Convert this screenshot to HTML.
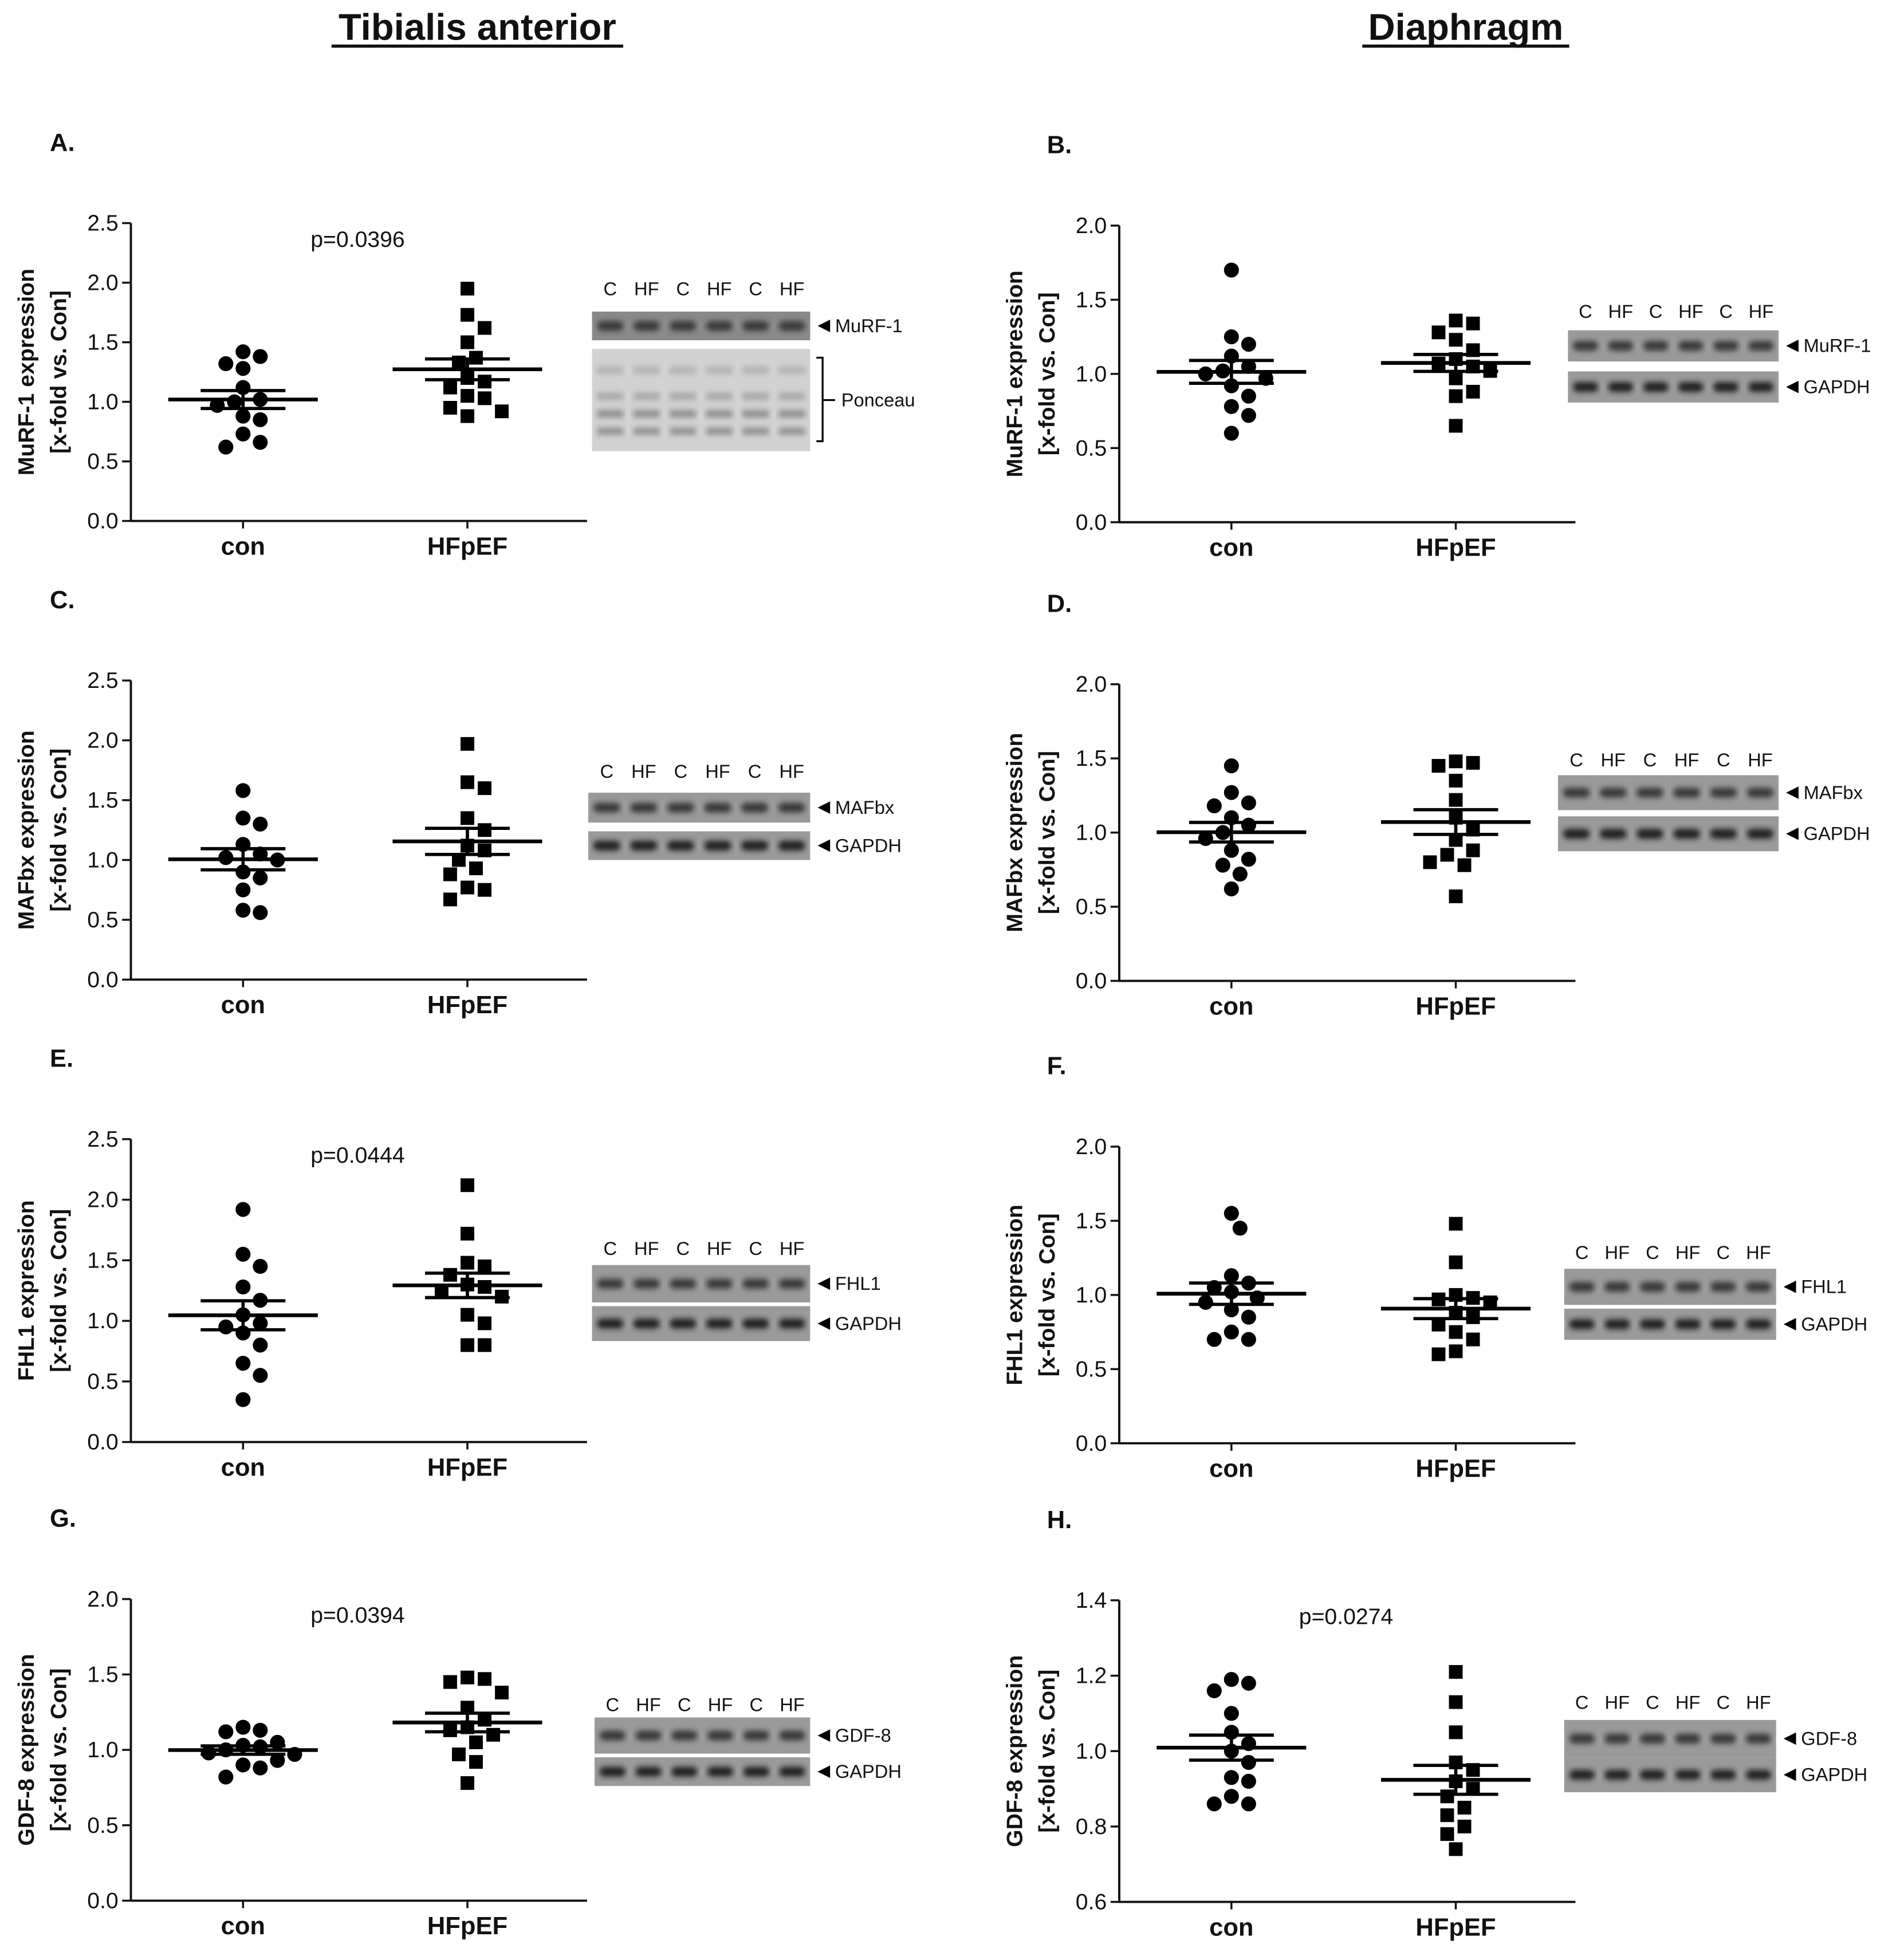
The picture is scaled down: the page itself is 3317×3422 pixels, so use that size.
<!DOCTYPE html>
<html><head><meta charset="utf-8"><style>
html,body{margin:0;padding:0;background:#fff}
svg{display:block}
text{font-family:"Liberation Sans",Arial,sans-serif;fill:#111}
</style></head><body>
<svg id="fig" width="3317" height="3422" viewBox="0 0 1524.4 1572.6" preserveAspectRatio="none" xmlns="http://www.w3.org/2000/svg">
<defs><filter id="blur" x="-10%" y="-100%" width="120%" height="300%"><feGaussianBlur stdDeviation="2.2"/></filter></defs>
<text x="383" y="32" text-anchor="middle" font-size="30" font-weight="bold">Tibialis anterior</text>
<line x1="266" y1="37" x2="500" y2="37" stroke="#111" stroke-width="2.5"/>
<text x="1176" y="32" text-anchor="middle" font-size="30" font-weight="bold">Diaphragm</text>
<line x1="1093" y1="37" x2="1259" y2="37" stroke="#111" stroke-width="2.5"/>
</svg>
<script>
// ----- data -----
const panelLetters = ["A.","B.","C.","D.","E.","F.","G.","H."];
const proteins = ["MuRF-1","MuRF-1","MAFbx","MAFbx","FHL1","FHL1","GDF-8","GDF-8"];
const categories = ["con","HFpEF"];
const yMaxs = [2.5,2.0,2.5,2.0,2.5,2.0,2.0,1.4];
const yMins = [0,0,0,0,0,0,0,0.6];
const yStepVals = [0.5,0.5,0.5,0.5,0.5,0.5,0.5,0.2];
const pValues = ["p=0.0396","","","","p=0.0444","","p=0.0394","p=0.0274"];
const conA=[1.42,1.38,1.32,1.28,1.12,1.02,1.0,0.97,0.88,0.85,0.73,0.66,0.62];
const hfA=[1.95,1.73,1.62,1.50,1.37,1.33,1.20,1.17,1.12,1.05,1.03,0.95,0.92,0.88];
const conB=[1.70,1.25,1.20,1.12,1.05,1.02,1.0,0.97,0.92,0.85,0.78,0.72,0.60];
const hfB=[1.36,1.34,1.28,1.23,1.16,1.10,1.07,1.05,1.02,0.97,0.88,0.85,0.65];
const conC=[1.58,1.35,1.30,1.13,1.05,1.02,1.0,0.90,0.85,0.75,0.58,0.56];
const hfC=[1.97,1.65,1.60,1.35,1.25,1.12,1.08,1.00,0.93,0.88,0.77,0.75,0.67];
const conD=[1.45,1.27,1.20,1.18,1.10,1.05,1.0,0.96,0.88,0.82,0.78,0.72,0.62];
const hfD=[1.48,1.47,1.45,1.35,1.22,1.10,1.02,0.95,0.88,0.85,0.80,0.78,0.57];
const conE=[1.92,1.55,1.45,1.28,1.17,1.05,0.98,0.95,0.90,0.80,0.65,0.55,0.35];
const hfE=[2.12,1.72,1.48,1.45,1.38,1.30,1.28,1.25,1.20,1.05,0.98,0.80,0.80];
const conF=[1.55,1.45,1.13,1.08,1.05,1.02,0.98,0.95,0.90,0.85,0.75,0.70,0.70];
const hfF=[1.48,1.22,1.00,0.98,0.97,0.95,0.88,0.85,0.80,0.75,0.70,0.62,0.60];
const conG=[1.15,1.13,1.12,1.05,1.03,1.02,1.0,0.98,0.97,0.93,0.90,0.88,0.82];
const hfG=[1.48,1.47,1.45,1.38,1.28,1.20,1.15,1.13,1.10,1.05,0.97,0.92,0.78];
const conH=[1.19,1.18,1.16,1.10,1.05,1.02,1.00,0.97,0.93,0.92,0.88,0.86,0.86];
const hfH=[1.21,1.13,1.05,0.97,0.95,0.92,0.90,0.88,0.85,0.83,0.80,0.78,0.74];
const conSeries=[conA,conB,conC,conD,conE,conF,conG,conH];
const hfSeries=[hfA,hfB,hfC,hfD,hfE,hfF,hfG,hfH];

// ----- layout (not data) -----
const L=[
 {ax:105,top:179,bot:418,blot:[475,650],lab:231,b1:[250,273],b2:null,pon:[280,362]},
 {ax:898,top:181,bot:419,blot:[1258,1427],lab:249,b1:[265,290],b2:[298,323]},
 {ax:105,top:546,bot:786,blot:[472,650],lab:618,b1:[636,660],b2:[667,690]},
 {ax:898,top:549,bot:787,blot:[1250,1427],lab:609,b1:[622,650],b2:[655,683]},
 {ax:105,top:914,bot:1157,blot:[475,650],lab:1001,b1:[1015,1045],b2:[1048,1076]},
 {ax:898,top:920,bot:1158,blot:[1255,1425],lab:1004,b1:[1018,1047],b2:[1050,1075]},
 {ax:105,top:1283,bot:1525,blot:[477,650],lab:1367,b1:[1378,1407],b2:[1410,1433]},
 {ax:898,top:1284,bot:1526,blot:[1255,1425],lab:1365,b1:[1380,1410],b2:[1410,1438]}
];
const NS="http://www.w3.org/2000/svg";
const svg=document.getElementById('fig');
function mk(tag,attrs,parent){const e=document.createElementNS(NS,tag);for(const k in attrs)e.setAttribute(k,attrs[k]);(parent||svg).appendChild(e);return e;}
function txt(s,attrs,parent){const e=mk('text',attrs,parent);e.textContent=s;return e;}

function swarm(vals,cx,yf,r){
  const placed=[];const out=[];
  const order=vals.map((v,i)=>i).sort((a,b)=>vals[b]-vals[a]);
  for(const i of order){
    const y=yf(vals[i]);
    for(let k=0;k<40;k++){
      const off=(k%2?1:-1)*Math.ceil(k/2)*r*1.15;
      const x=cx+off;
      if(placed.every(p=>Math.hypot(p[0]-x,p[1]-y)>=2*r+1)){placed.push([x,y]);out[i]=[x,y];break;}
    }
  }
  return out;
}

for(let p=0;p<8;p++){
  const l=L[p];
  const g=mk('g',{});
  
  
  const xEnd=l.ax+366;
  const yf=v=>l.bot-(v-yMins[p])/(yMaxs[p]-yMins[p])*(l.bot-l.top);
  const xc=[l.ax+90,l.ax+270];
  const lt=txt(panelLetters[p],{x:l.ax-65+(p%2?7:0),y:l.top-58,'font-size':20,'font-weight':'bold'},g);
  
  
  const ya=mk('line',{x1:l.ax,y1:l.top,x2:l.ax,y2:l.bot,stroke:'#111','stroke-width':1.8},g);
  
  
  const xa=mk('line',{x1:l.ax,y1:l.bot,x2:xEnd,y2:l.bot,stroke:'#111','stroke-width':1.8},g);
  
  
  const n=Math.round((yMaxs[p]-yMins[p])/yStepVals[p]);
  for(let i=0;i<=n;i++){
    const v=yMins[p]+i*yStepVals[p];const y=yf(v);
    mk('line',{x1:l.ax-7,y1:y,x2:l.ax,y2:y,stroke:'#111','stroke-width':1.6},g);
    const t=txt(v.toFixed(1),{x:l.ax-10,y:y+6,'text-anchor':'end','font-size':18},g);
    
    
  }
  for(let c=0;c<2;c++){
    mk('line',{x1:xc[c],y1:l.bot,x2:xc[c],y2:l.bot+6,stroke:'#111','stroke-width':1.6},g);
    const t=txt(categories[c],{x:xc[c],y:l.bot+27,'text-anchor':'middle','font-size':20,'font-weight':'bold'},g);
    
    
  }
  const ym=(l.top+l.bot)/2;
  const t1=txt(proteins[p]+' expression',{x:0,y:0,'font-size':18,'font-weight':'bold','text-anchor':'middle',transform:`translate(${l.ax-78},${ym}) rotate(-90)`},g);
  
  
  const t2=txt('[x-fold vs. Con]',{x:0,y:0,'font-size':18,'font-weight':'bold','text-anchor':'middle',transform:`translate(${l.ax-52},${ym}) rotate(-90)`},g);
  
  
  if(pValues[p]){
    const pt=txt(pValues[p],{x:l.ax+182,y:l.top+19,'text-anchor':'middle','font-size':18},g);
    
    
  }
  const series=[conSeries[p],hfSeries[p]];
  for(let c=0;c<2;c++){
    const vals=series[c];
    const pts=swarm(vals,xc[c],yf,6);
    pts.forEach(q=>{
      let m;
      if(c===0)m=mk('circle',{cx:q[0],cy:q[1],r:6,fill:'#000'},g);
      else m=mk('rect',{x:q[0]-5.5,y:q[1]-5.5,width:11,height:11,fill:'#000'},g);
      
      
    });
    const mean=vals.reduce((a,b)=>a+b,0)/vals.length;
    const sd=Math.sqrt(vals.reduce((a,b)=>a+(b-mean)**2,0)/(vals.length-1));
    const sem=sd/Math.sqrt(vals.length);
    const ml=mk('line',{x1:xc[c]-60,y1:yf(mean),x2:xc[c]+60,y2:yf(mean),stroke:'#000','stroke-width':3},g);
    
    
    const eb=mk('path',{d:`M${xc[c]},${yf(mean+sem)}V${yf(mean-sem)}M${xc[c]-34},${yf(mean+sem)}H${xc[c]+34}M${xc[c]-34},${yf(mean-sem)}H${xc[c]+34}`,stroke:'#000','stroke-width':2.6,fill:'none'},g);
    
    
  }
  const bg=mk('g',{},g);
  
  
  const bx0=l.blot[0],bx1=l.blot[1],lw=(bx1-bx0)/6;
  ['C','HF','C','HF','C','HF'].forEach((s,i)=>{
    const t=txt(s,{x:bx0+lw*(i+0.5),y:l.lab+6,'text-anchor':'middle','font-size':15},bg);
    
    
  });
  const strips=[[l.b1,proteins[p]]];
  if(l.b2)strips.push([l.b2,'GAPDH']);
  strips.forEach(([yy,name],si)=>{
    mk('rect',{x:bx0,y:yy[0],width:bx1-bx0,height:yy[1]-yy[0],fill:si===0&&p===0?'#8a8a8a':'#9a9a9a'},bg);
    const cy=(yy[0]+yy[1])/2;
    for(let i=0;i<6;i++){
      mk('rect',{x:bx0+lw*i+4,y:cy-4,width:lw-8,height:8,rx:4,fill:si===1?'#222':'#3a3a3a',filter:'url(#blur)'},bg);
    }
    mk('path',{d:`M${bx1+6},${cy}l10,-5v10z`,fill:'#000'},bg);
    const t=txt(name,{x:bx1+20,y:cy+5,'font-size':15},bg);
    
    
  });
  if(l.pon){
    mk('rect',{x:bx0,y:l.pon[0],width:bx1-bx0,height:l.pon[1]-l.pon[0],fill:'#d2d2d2'},bg);
    [[297,0.35],[318,0.45],[332,0.75],[346,0.7]].forEach(b=>{
      for(let i=0;i<6;i++)mk('rect',{x:bx0+lw*i+4,y:b[0]-3,width:lw-8,height:6,fill:'#777',opacity:b[1],filter:'url(#blur)'},bg);
    });
    mk('path',{d:`M${bx1+5},${l.pon[0]+7}h5V${l.pon[1]-8}h-5M${bx1+10},${(l.pon[0]+l.pon[1])/2}h10`,stroke:'#000','stroke-width':1.5,fill:'none'},bg);
    const t=txt('Ponceau',{x:bx1+25,y:(l.pon[0]+l.pon[1])/2+5,'font-size':15},bg);
    
    
  }
}
</script>
</body></html>
